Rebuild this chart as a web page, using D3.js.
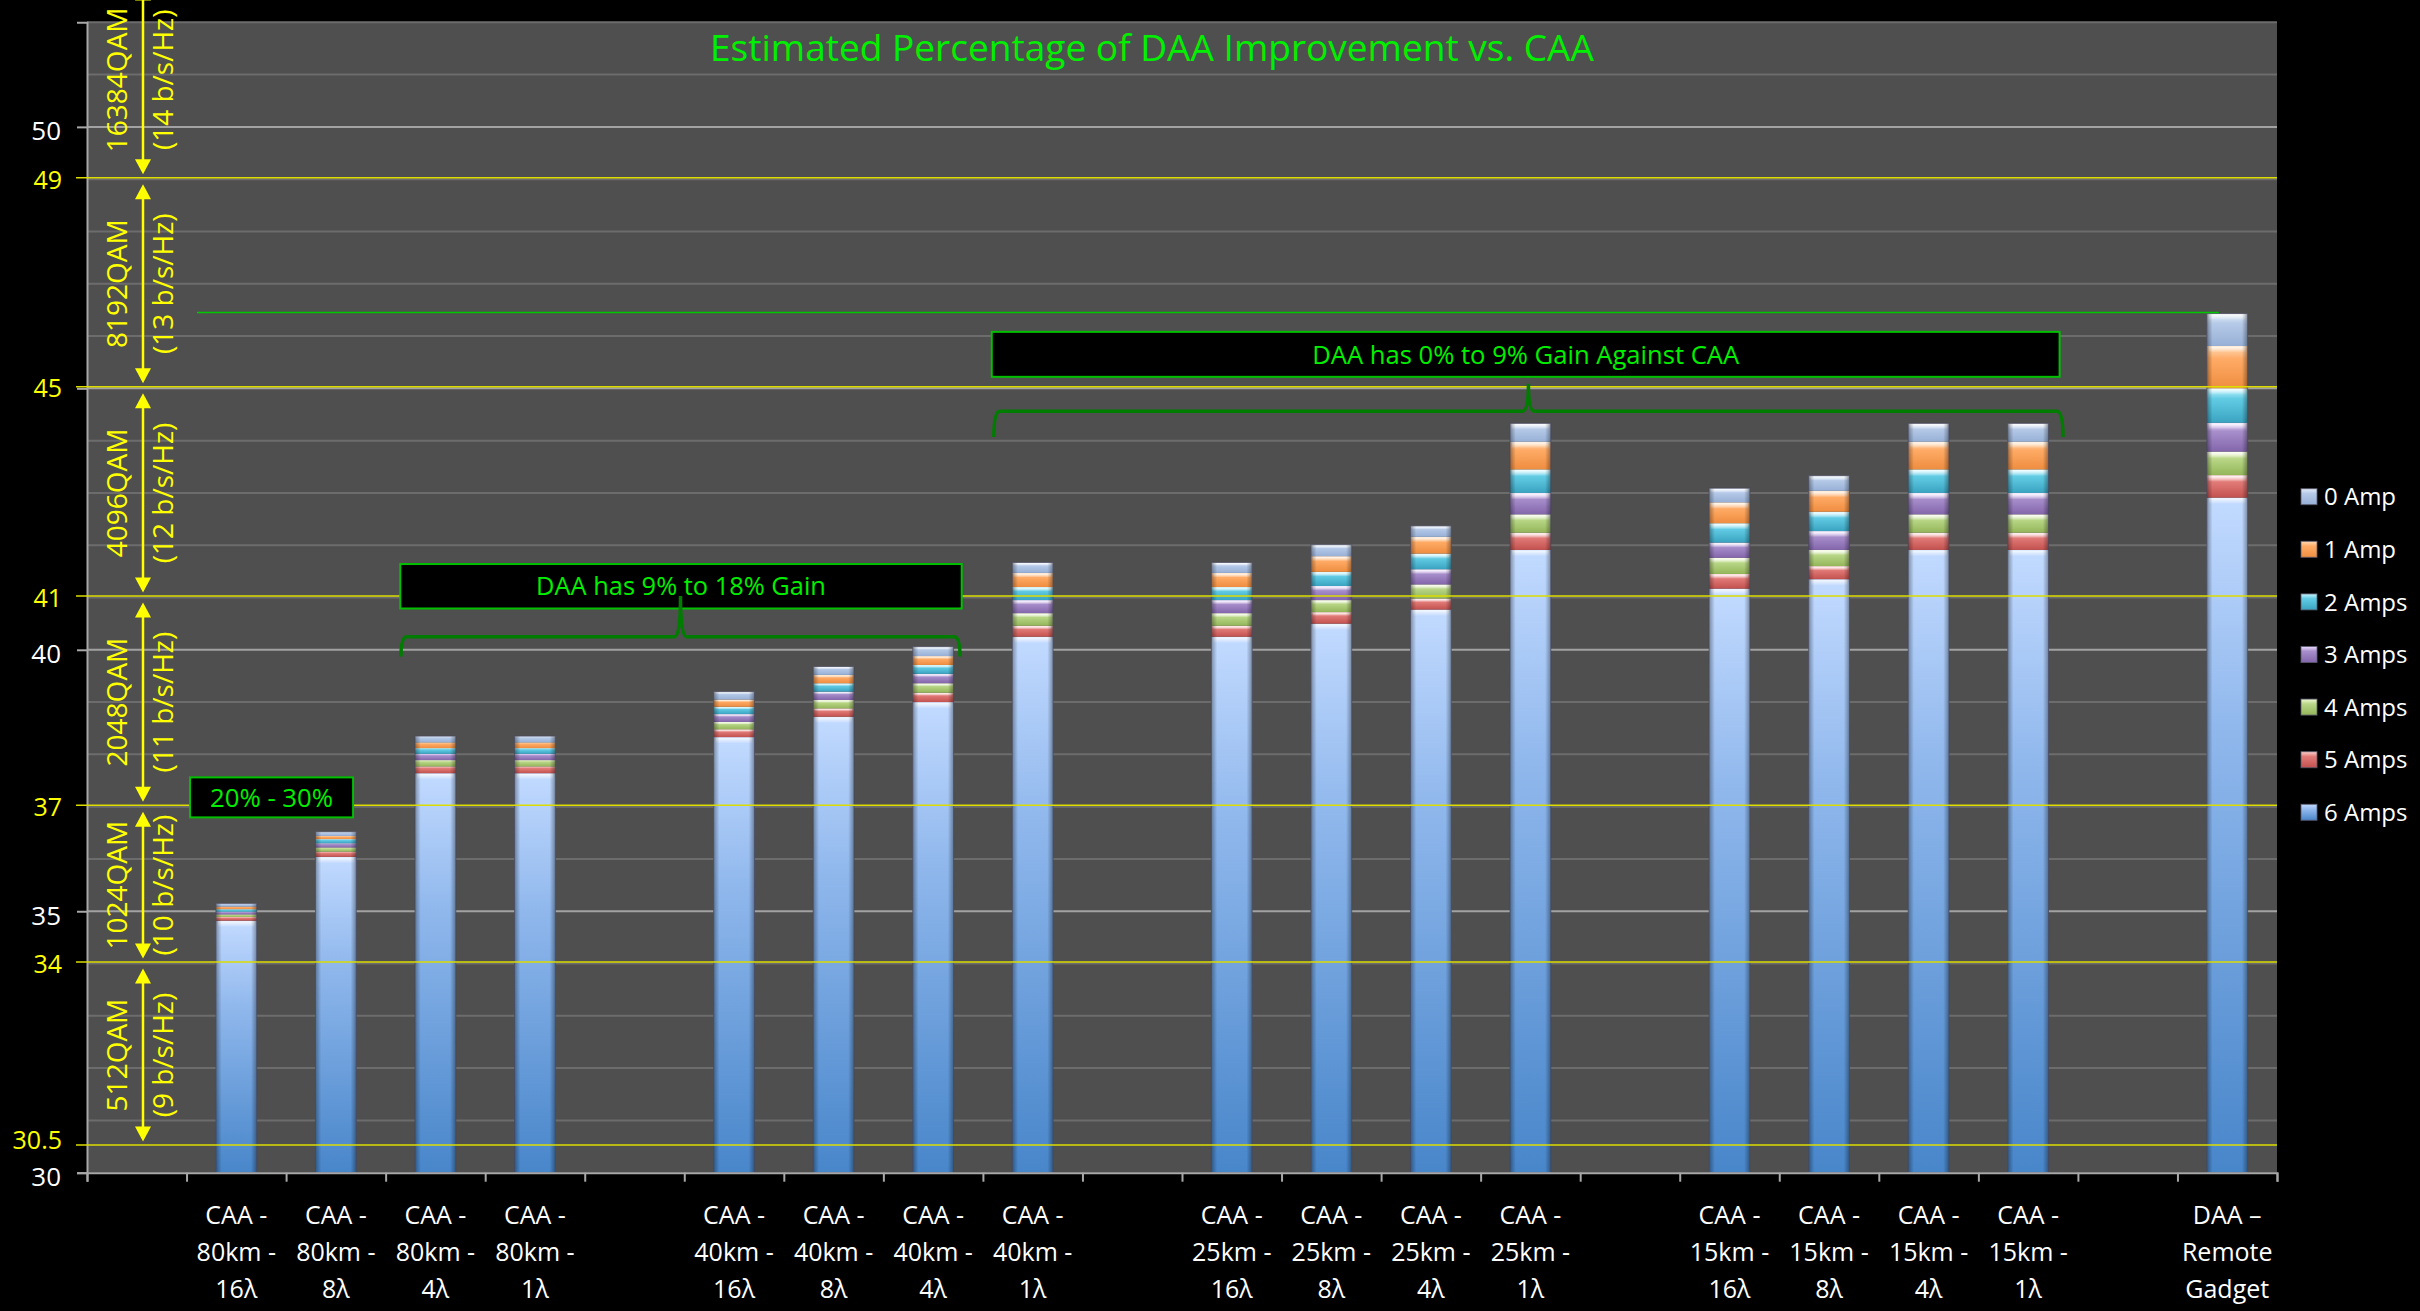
<!DOCTYPE html>
<html><head><meta charset="utf-8">
<script src="https://cdn.jsdelivr.net/npm/d3@7"></script>
<style>html,body{margin:0;padding:0;background:#000;} svg{display:block;}</style>
</head><body>
<svg id="chart" width="2420" height="1311"></svg>
<script>
// ---------------- DATA ----------------
const categories = ["",
  "CAA -\n80km -\n16λ","CAA -\n80km -\n8λ","CAA -\n80km -\n4λ","CAA -\n80km -\n1λ","",
  "CAA -\n40km -\n16λ","CAA -\n40km -\n8λ","CAA -\n40km -\n4λ","CAA -\n40km -\n1λ","",
  "CAA -\n25km -\n16λ","CAA -\n25km -\n8λ","CAA -\n25km -\n4λ","CAA -\n25km -\n1λ","",
  "CAA -\n15km -\n16λ","CAA -\n15km -\n8λ","CAA -\n15km -\n4λ","CAA -\n15km -\n1λ","",
  "DAA –\nRemote\nGadget"];
const seriesNames = ["6 Amps","5 Amps","4 Amps","3 Amps","2 Amps","1 Amp","0 Amp"];
const amp6 = [0, 34.82,36.04,37.64,37.64, 0, 38.33,38.72,39.00,40.25, 0, 40.25,40.50,40.77,41.91, 0, 41.17,41.35,41.91,41.91, 0, 42.91];
const amp5 = [0, 0.07,0.10,0.13,0.13, 0, 0.15,0.16,0.18,0.21, 0, 0.21,0.22,0.21,0.33, 0, 0.28,0.25,0.33,0.33, 0, 0.43];
const amp4 = [0, 0.05,0.08,0.12,0.12, 0, 0.14,0.16,0.18,0.24, 0, 0.24,0.23,0.27,0.35, 0, 0.31,0.31,0.35,0.35, 0, 0.45];
const amp3 = [0, 0.05,0.08,0.12,0.12, 0, 0.15,0.16,0.18,0.25, 0, 0.25,0.27,0.29,0.41, 0, 0.29,0.36,0.41,0.41, 0, 0.55];
const amp2 = [0, 0.05,0.08,0.11,0.11, 0, 0.14,0.16,0.17,0.25, 0, 0.25,0.27,0.30,0.45, 0, 0.37,0.37,0.45,0.45, 0, 0.66];
const amp1 = [0, 0.05,0.06,0.11,0.11, 0, 0.14,0.16,0.17,0.27, 0, 0.27,0.30,0.32,0.53, 0, 0.40,0.40,0.53,0.53, 0, 0.81];
const amp0 = [0, 0.06,0.08,0.12,0.12, 0, 0.15,0.16,0.18,0.20, 0, 0.20,0.22,0.21,0.35, 0, 0.27,0.29,0.35,0.35, 0, 0.62];
const yDomain = [30, 52];
const yTickValues = [30, 35, 40, 45, 50];
const yTickLabels = ["30", "35", "40", "", "50"];
const qamLevels = [30.5, 34, 37, 41, 45, 49];
const qamLevelLabels = ["30.5", "34", "37", "41", "45", "49"];
const qamNames = ["512QAM", "1024QAM", "2048QAM", "4096QAM", "8192QAM", "16384QAM"];
const qamRates = ["(9 b/s/Hz)", "(10 b/s/Hz)", "(11 b/s/Hz)", "(12 b/s/Hz)", "(13 b/s/Hz)", "(14 b/s/Hz)"];
const qamBandTop = [34, 37, 41, 45, 49, 52.8];
const qamBandBottom = [30.5, 34, 37, 41, 45, 49];
const titleText = "Estimated Percentage of DAA Improvement vs. CAA";
const boxTexts = ["20% - 30%", "DAA has 9% to 18% Gain", "DAA has 0% to 9% Gain Against CAA"];

// ---------------- STYLE / LAYOUT ----------------
const W = 2420, H = 1311;
const plot = {left: 87, right: 2277, top: 22.3, bottom: 1172.7};
const levelLabelShift = [-7, 0, 0, 0, 0, 1]; // px nudges of yellow level labels
const baseColors = {
  "0 Amp":  ["#e6eefa", "#b6cae8", "#97b0d6"],
  "1 Amp":  ["#ffdcb8", "#ffab66", "#ee8d40"],
  "2 Amps": ["#c6f6ff", "#62cbe4", "#3aa3c0"],
  "3 Amps": ["#ecdcff", "#a78ecb", "#8366ab"],
  "4 Amps": ["#f0fad4", "#b9d787", "#94b55a"],
  "5 Amps": ["#ffd4d2", "#e27b78", "#c2514e"],
  "6 Amps": ["#c2daff", "#8fb7ec", "#4886ca"]
};
const font = "'Open Sans', 'DejaVu Sans', sans-serif";
const green = "#00f000", boxGreen = "#00c000", braceGreen = "#007c00", yellow = "#ffff00";

const svg = d3.select("#chart");
svg.append("rect").attr("width", W).attr("height", H).attr("fill", "#000");
const defs = svg.append("defs");

// gradients
seriesNames.forEach((s, i) => {
  const c = baseColors[s];
  const g = defs.append("linearGradient").attr("id", "g" + i).attr("x1", 0).attr("y1", 0).attr("x2", 0).attr("y2", 1);
  g.append("stop").attr("offset", 0).attr("stop-color", c[0]);
  g.append("stop").attr("offset", s === "6 Amps" ? 0.35 : 0.3).attr("stop-color", c[1]);
  g.append("stop").attr("offset", 1).attr("stop-color", c[2]);
});
const hl = defs.append("linearGradient").attr("id", "hl").attr("x1", 0).attr("y1", 0).attr("x2", 0).attr("y2", 1);
hl.append("stop").attr("offset", 0).attr("stop-color", "#fff").attr("stop-opacity", 0.85);
hl.append("stop").attr("offset", 1).attr("stop-color", "#fff").attr("stop-opacity", 0);
const side = defs.append("linearGradient").attr("id", "side").attr("x1", 0).attr("y1", 0).attr("x2", 1).attr("y2", 0);
side.append("stop").attr("offset", 0).attr("stop-color", "#000").attr("stop-opacity", 0.35);
side.append("stop").attr("offset", 0.14).attr("stop-color", "#000").attr("stop-opacity", 0);
side.append("stop").attr("offset", 0.86).attr("stop-color", "#000").attr("stop-opacity", 0);
side.append("stop").attr("offset", 1).attr("stop-color", "#000").attr("stop-opacity", 0.35);

// scales
const x = d3.scaleBand().domain(d3.range(categories.length)).range([plot.left, plot.right])
  .paddingInner(0.59).paddingOuter(0.295);
const xb = d3.scaleLinear().domain([0, categories.length]).range([plot.left, plot.right]);
const y = d3.scaleLinear().domain(yDomain).range([plot.bottom, plot.top]);

// plot background
svg.append("rect").attr("x", plot.left).attr("y", plot.top)
  .attr("width", plot.right - plot.left).attr("height", plot.bottom - plot.top).attr("fill", "#4f4f4f");

// gridlines
const gridVals = d3.range(yDomain[0] + 1, yDomain[1] + 1, 1);
svg.append("g").selectAll("line").data(gridVals).join("line")
  .attr("x1", plot.left).attr("x2", plot.right)
  .attr("y1", d => y(d)).attr("y2", d => y(d))
  .attr("stroke", d => (d % 5 === 0 ? "#a2a2a2" : "#6c6c6c"))
  .attr("stroke-width", 2);

// y axis
const yAxis = svg.append("g").attr("transform", `translate(${plot.left},0)`)
  .call(d3.axisLeft(y).tickValues(yTickValues).tickSize(10).tickPadding(16)
    .tickFormat((d, i) => yTickLabels[i]));
yAxis.select(".domain").attr("stroke", "#a8a8a8").attr("stroke-width", 2);
yAxis.selectAll(".tick line").attr("stroke", "#a8a8a8").attr("stroke-width", 2);
yAxis.selectAll(".tick text").attr("fill", "#fff").attr("font-family", font).attr("font-size", 26).attr("dy", "0.5em");

// stacked bars
const rows = categories.map((c, i) => ({
  "6 Amps": amp6[i], "5 Amps": amp5[i], "4 Amps": amp4[i], "3 Amps": amp3[i],
  "2 Amps": amp2[i], "1 Amp": amp1[i], "0 Amp": amp0[i]
}));
const stacked = d3.stack().keys(seriesNames)(rows);
const barsG = svg.append("g");
stacked.forEach((layer, li) => {
  const segs = layer.map((d, i) => ({d, i})).filter(o => amp6[o.i] > 0);
  barsG.append("g").selectAll("rect").data(segs).join("rect")
    .attr("x", o => x(o.i)).attr("width", x.bandwidth())
    .attr("y", o => y(o.d[1]))
    .attr("height", o => Math.max(0, y(Math.max(o.d[0], yDomain[0])) - y(o.d[1])))
    .attr("fill", "url(#g" + li + ")");
  barsG.append("g").selectAll("rect").data(segs).join("rect")
    .attr("x", o => x(o.i) + 2).attr("width", x.bandwidth() - 4)
    .attr("y", o => y(o.d[1]) + 0.5)
    .attr("height", o => {
      const h = y(Math.max(o.d[0], yDomain[0])) - y(o.d[1]);
      return h > 7 ? Math.min(6, h * 0.3) : 0;
    })
    .attr("fill", "url(#hl)");
});
const totals = rows.map(r => seriesNames.reduce((a, k) => a + r[k], 0));
barsG.append("g").selectAll("rect").data(d3.range(categories.length).filter(i => amp6[i] > 0)).join("rect")
  .attr("x", i => x(i)).attr("width", x.bandwidth())
  .attr("y", i => y(totals[i])).attr("height", i => y(yDomain[0]) - y(totals[i]))
  .attr("fill", "url(#side)").attr("stroke", "rgba(70,70,90,0.7)").attr("stroke-width", 1);

// x axis (ticks at category boundaries)
const xAxis = svg.append("g").attr("transform", `translate(0,${plot.bottom})`)
  .call(d3.axisBottom(xb).tickValues(d3.range(categories.length + 1)).tickSize(9).tickFormat(""));
xAxis.select(".domain").attr("stroke", "#a8a8a8").attr("stroke-width", 2);
xAxis.selectAll(".tick line").attr("stroke", "#a8a8a8").attr("stroke-width", 2);
const xl = svg.append("g").selectAll("text").data(categories.map((c, i) => ({c, i})).filter(o => o.c))
  .join("text")
  .attr("x", o => x(o.i) + x.bandwidth() / 2).attr("y", 1224)
  .attr("text-anchor", "middle").attr("fill", "#fff").attr("font-family", font).attr("font-size", 25);
xl.each(function (o) {
  const t = d3.select(this);
  o.c.split("\n").forEach((line, k) => {
    t.append("tspan").attr("x", x(o.i) + x.bandwidth() / 2).attr("dy", k === 0 ? 0 : 37).text(line);
  });
});

// yellow QAM threshold lines + labels
svg.append("g").selectAll("line").data(qamLevels).join("line")
  .attr("x1", 76).attr("x2", plot.right)
  .attr("y1", d => y(d) - 1.5).attr("y2", d => y(d) - 1.5)
  .attr("stroke", "#dcdc00").attr("stroke-width", 1.5);
svg.append("g").selectAll("text").data(qamLevels).join("text")
  .attr("x", 62).attr("y", (d, i) => y(d) + levelLabelShift[i]).attr("dy", "0.36em")
  .attr("text-anchor", "end").attr("fill", yellow).attr("font-family", font).attr("font-size", 25)
  .text((d, i) => qamLevelLabels[i]);

// QAM bands: arrows + rotated labels
const arrowX = 143, gap = 5, ah = 15, aw = 8;
const bandG = svg.append("g");
qamNames.forEach((name, i) => {
  const yt = y(qamBandTop[i]) + gap, yb = y(qamBandBottom[i]) - gap;
  const mid = (y(qamBandTop[i]) + y(qamBandBottom[i])) / 2;
  bandG.append("line").attr("x1", arrowX).attr("x2", arrowX).attr("y1", yt + ah - 2).attr("y2", yb - ah + 2)
    .attr("stroke", yellow).attr("stroke-width", 2.5);
  bandG.append("path").attr("d", `M${arrowX},${yt} L${arrowX - aw},${yt + ah} L${arrowX + aw},${yt + ah} Z`).attr("fill", yellow);
  bandG.append("path").attr("d", `M${arrowX},${yb} L${arrowX - aw},${yb - ah} L${arrowX + aw},${yb - ah} Z`).attr("fill", yellow);
  bandG.append("text").attr("transform", `translate(127,${mid}) rotate(-90)`)
    .attr("text-anchor", "middle").attr("fill", yellow).attr("font-family", font).attr("font-size", 28).text(name);
  bandG.append("text").attr("transform", `translate(173,${mid}) rotate(-90)`)
    .attr("text-anchor", "middle").attr("fill", yellow).attr("font-family", font).attr("font-size", 28).text(qamRates[i]);
});

function fit(sel, width) {
  const len = sel.node().getComputedTextLength();
  const fs = parseFloat(sel.attr("font-size"));
  sel.attr("font-size", (fs * width / len).toFixed(2));
}

// title
const title = svg.append("text").attr("x", 1152).attr("y", 61).attr("text-anchor", "middle")
  .attr("fill", green).attr("font-family", font).attr("font-size", 36).text(titleText);
fit(title, 884);

// green reference line at DAA top
const daaIdx = categories.length - 1;
svg.append("line").attr("x1", xb(1.105)).attr("x2", x(daaIdx) + 12)
  .attr("y1", y(totals[daaIdx]) - 1).attr("y2", y(totals[daaIdx]) - 1)
  .attr("stroke", "#00c800").attr("stroke-width", 1.5);

// annotation boxes (data coordinates: category-slot units and y values)
const boxSlots = [[1.035, 2.673], [3.147, 8.787], [9.089, 19.816]];
const boxVals = [[37.56, 36.795], [41.64, 40.79], [46.08, 45.22]];
const boxTextW = [123, 290, 427];
const annG = svg.append("g");
boxTexts.forEach((t, i) => {
  const x0 = xb(boxSlots[i][0]), x1 = xb(boxSlots[i][1]);
  const y0 = y(boxVals[i][0]), y1 = y(boxVals[i][1]);
  annG.append("rect").attr("x", x0).attr("y", y0).attr("width", x1 - x0).attr("height", y1 - y0)
    .attr("fill", "#000").attr("stroke", boxGreen).attr("stroke-width", 2);
  const tx = annG.append("text").attr("x", (x0 + x1) / 2).attr("y", (y0 + y1) / 2).attr("dy", "0.36em")
    .attr("text-anchor", "middle").attr("fill", green).attr("font-family", font).attr("font-size", 24).text(t);
  fit(tx, boxTextW[i]);
});

// braces
const braceSlots = [[3.154, 8.77], [9.11, 19.85]];
const braceVals = [[40.25, 39.87, 41.03], [44.564, 44.07, 45.09]]; // horizontal, ends, tip
braceSlots.forEach((s, i) => {
  const x0 = xb(s[0]), x1 = xb(s[1]), xm = (x0 + x1) / 2;
  const yh = y(braceVals[i][0]), ye = y(braceVals[i][1]), yt = y(braceVals[i][2]);
  const r = 6;
  const p = `M${x0},${ye} Q${x0},${yh} ${x0 + r},${yh} L${xm - r},${yh} Q${xm},${yh} ${xm},${yt} Q${xm},${yh} ${xm + r},${yh} L${x1 - r},${yh} Q${x1},${yh} ${x1},${ye}`;
  annG.append("path").attr("d", p).attr("fill", "none").attr("stroke", braceGreen).attr("stroke-width", 3.5);
});

// legend
const legendKeys = seriesNames.slice().reverse();
const lg = svg.append("g");
legendKeys.forEach((k, i) => {
  const cy = 496.7 + i * 52.6;
  const si = seriesNames.indexOf(k);
  lg.append("rect").attr("x", 2301).attr("y", cy - 8).attr("width", 16).attr("height", 16)
    .attr("fill", "url(#g" + si + ")").attr("stroke", "rgba(90,90,110,0.8)").attr("stroke-width", 1);
  lg.append("text").attr("x", 2324).attr("y", cy).attr("dy", "0.36em").attr("fill", "#fff")
    .attr("font-family", font).attr("font-size", 24).text(k);
});
</script>
</body></html>
